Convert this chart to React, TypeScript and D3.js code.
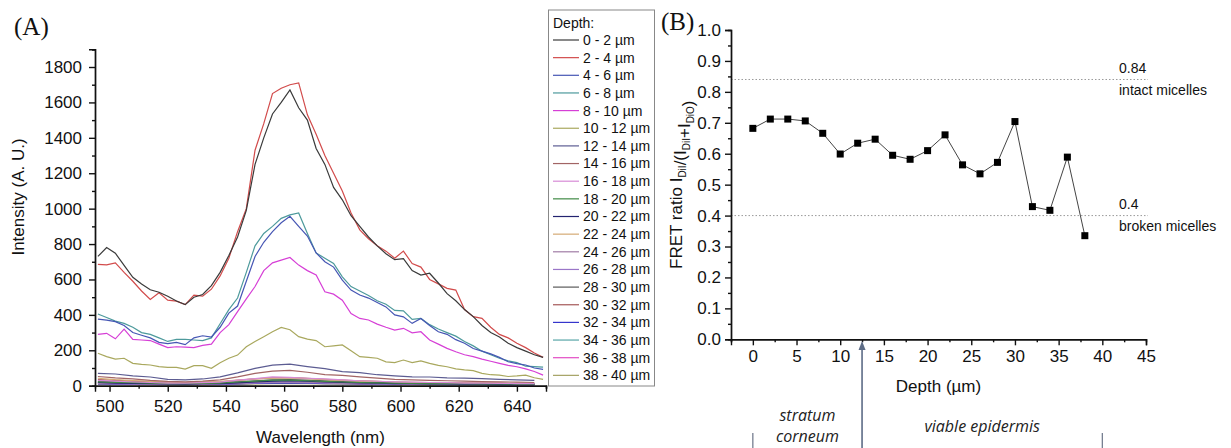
import { useEffect, useRef } from 'react'
import * as d3 from 'd3'

// Panel A: emission spectra at each depth
const wavelengths = [
  496, 499, 502, 505, 508, 511, 514, 517, 520, 523, 526, 529, 532, 535, 538, 541, 544, 547, 550, 553,
  556, 559, 562, 565, 568, 571, 574, 577, 580, 583, 586, 589, 592, 595, 598, 601, 604, 607, 610, 613,
  616, 619, 622, 625, 628, 631, 634, 637, 640, 643, 646, 649
]
const wavelengthsCoarse = [
  496, 502, 508, 514, 520, 526, 532, 538, 544, 550, 556, 562, 568, 574, 580, 586, 592, 598, 604, 610,
  616, 622, 628, 634, 640, 646
]

const spectrum0to2 = [
  730, 780, 748, 680, 612, 575, 542, 528, 505, 478, 458, 500, 515, 565, 640, 735, 840, 990, 1250, 1400,
  1535, 1600, 1670, 1570, 1500, 1340, 1250, 1120, 1050, 960, 900, 840, 790, 745, 712, 718, 650, 625, 635, 580,
  520, 480, 430, 390, 340, 300, 275, 240, 215, 195, 175, 160
]
const spectrum2to4 = [
  685, 682, 694, 640, 590, 535, 487, 525, 483, 478, 458, 512, 506, 545, 620, 720, 870, 1000, 1330, 1480,
  1650, 1680, 1700, 1710, 1530, 1420, 1300, 1200, 1100, 975, 880, 830, 790, 760, 720, 760, 690, 670, 600, 575,
  550, 540, 430, 390, 380, 330, 290, 270, 240, 215, 185, 160
]
const spectrum4to6 = [
  376, 370, 362, 340, 300, 285, 270, 245, 238, 245, 232, 270, 282, 275, 330, 410, 450, 590, 730, 810,
  870, 920, 957, 900, 845, 750, 700, 670, 596, 540, 512, 495, 470, 445, 400, 389, 352, 380, 340, 305,
  290, 260, 240, 210, 195, 180, 160, 135, 125, 117, 100, 92
]
const spectrum6to8 = [
  405, 385, 365, 352, 330, 300, 290, 270, 250, 262, 262, 258, 255, 270, 350, 430, 495, 640, 790, 860,
  900, 945, 965, 976, 860, 750, 720, 690, 615, 560, 535, 510, 480, 460, 425, 423, 375, 380, 345, 320,
  300, 280, 250, 225, 195, 175, 155, 140, 130, 110, 108, 105
]
const spectrum8to10 = [
  290, 296, 265, 320, 262, 258, 255, 235, 215, 220, 218, 215, 228, 235, 300, 345, 418, 490, 560, 650,
  694, 709, 724, 681, 650, 625, 530, 517, 483, 408, 380, 371, 348, 330, 314, 324, 299, 305, 258, 235,
  211, 192, 175, 164, 150, 138, 126, 115, 107, 95, 80, 60
]
const spectrum10to12 = [
  183, 164, 150, 155, 126, 120, 117, 108, 104, 103, 94, 113, 113, 98, 130, 155, 173, 220, 250, 277,
  305, 329, 316, 277, 263, 255, 220, 225, 230, 198, 164, 160, 155, 135, 130, 145, 130, 140, 126, 115,
  107, 95, 89, 85, 70, 62, 60, 52, 55, 60, 45, 36
]
const spectrum12to14 = [70, 66, 56, 49, 36, 33, 38, 50, 72, 98, 116, 122, 108, 96, 80, 74, 62, 56, 50, 49, 44, 43, 40, 36, 33, 30]
const spectrum14to16 = [52, 44, 39, 30, 24, 22, 26, 33, 50, 70, 82, 86, 76, 63, 58, 50, 43, 36, 33, 30, 28, 26, 23, 22, 20, 18]
const spectrum16to18 = [30, 26, 21, 18, 15, 14, 17, 20, 31, 40, 50, 47, 42, 38, 33, 28, 25, 22, 20, 18, 17, 15, 14, 13, 12, 12]
const spectrum18to20 = [22, 18, 17, 14, 12, 11, 13, 15, 21, 26, 31, 32, 28, 24, 21, 18, 16, 14, 13, 12, 12, 11, 10, 10, 9, 9]
const spectrum20to22 = [18, 15, 13, 12, 10, 9, 11, 12, 16, 22, 26, 28, 25, 21, 18, 16, 14, 12, 11, 10, 10, 9, 9, 8, 8, 8]
const spectrum22to24 = [42, 34, 29, 24, 20, 18, 21, 25, 32, 39, 42, 45, 40, 34, 30, 26, 23, 20, 18, 17, 16, 15, 14, 13, 12, 12]
const spectrum24to26 = [15, 13, 11, 10, 9, 8, 9, 11, 14, 18, 21, 22, 20, 17, 15, 13, 12, 11, 10, 9, 9, 8, 8, 7, 7, 7]
const spectrum26to28 = [12, 10, 9, 8, 7, 7, 8, 9, 12, 15, 18, 19, 17, 14, 12, 11, 10, 9, 8, 8, 7, 7, 6, 6, 6, 6]
const spectrum28to30 = [25, 22, 19, 16, 14, 13, 14, 17, 22, 28, 33, 35, 31, 27, 23, 20, 18, 16, 15, 14, 13, 12, 11, 10, 10, 9]
const spectrum30to32 = [35, 30, 26, 22, 19, 17, 19, 22, 30, 38, 44, 46, 42, 36, 31, 27, 24, 21, 19, 18, 17, 16, 15, 14, 13, 12]
const spectrum32to34 = [10, 9, 8, 7, 6, 6, 7, 8, 10, 13, 15, 16, 14, 12, 11, 10, 9, 8, 7, 7, 6, 6, 6, 5, 5, 5]
const spectrum34to36 = [20, 17, 15, 13, 11, 10, 11, 13, 17, 22, 26, 27, 24, 21, 18, 16, 14, 13, 12, 11, 10, 10, 9, 8, 8, 8]
const spectrum36to38 = [14, 12, 11, 10, 9, 8, 9, 10, 13, 17, 20, 21, 19, 16, 14, 12, 11, 10, 9, 9, 8, 8, 7, 7, 6, 6]
const spectrum38to40 = [8, 7, 6, 6, 5, 5, 5, 6, 8, 10, 12, 13, 11, 10, 9, 8, 7, 6, 6, 5, 5, 5, 5, 4, 4, 4]

const depthLabels = [
  '0 - 2 µm', '2 - 4 µm', '4 - 6 µm', '6 - 8 µm', '8 - 10 µm', '10 - 12 µm', '12 - 14 µm', '14 - 16 µm',
  '16 - 18 µm', '18 - 20 µm', '20 - 22 µm', '22 - 24 µm', '24 - 26 µm', '26 - 28 µm', '28 - 30 µm',
  '30 - 32 µm', '32 - 34 µm', '34 - 36 µm', '36 - 38 µm', '38 - 40 µm'
]
const depthColors = [
  '#3a3a3a', '#d24b4b', '#4656b4', '#4d9a9c', '#d63fd6', '#a9a85e', '#5c5c92', '#a26464', '#d78bd6', '#3f8a45',
  '#232370', '#d4aa74', '#a07ca6', '#9a76c8', '#5a5a5a', '#a45858', '#3535cc', '#58a6a8', '#e24cc4', '#a4a262'
]

// Panel B: FRET ratio vs depth
const depths = [0, 2, 4, 6, 8, 10, 12, 14, 16, 18, 20, 22, 24, 26, 28, 30, 32, 34, 36, 38]
const fretRatio = [
  0.682, 0.712, 0.712, 0.706, 0.666, 0.599, 0.634, 0.647, 0.595, 0.582,
  0.610, 0.661, 0.564, 0.535, 0.572, 0.704, 0.429, 0.417, 0.589, 0.335
]
const referenceLevels = [0.84, 0.4]
const referenceNames = ['intact micelles', 'broken micelles']

const FONT = '"Liberation Sans", Arial, sans-serif'

const App = () => {
  const svgRef = useRef<SVGSVGElement>(null)

  useEffect(() => {
    if (!svgRef.current) return
    const svg = d3.select(svgRef.current)
    svg.selectAll('*').remove()

    const styleAxis = (g: any, size: number) => {
      g.attr('font-family', FONT).attr('font-size', size)
      g.select('.domain').attr('stroke', '#111').attr('stroke-width', 1.4)
      g.selectAll('.tick line').attr('stroke', '#111').attr('stroke-width', 1.4)
      g.selectAll('.tick text').attr('fill', '#111')
    }

    // ---------- Panel A ----------
    const xA = d3.scaleLinear().domain([495, 650]).range([95, 546])
    const yA = d3.scaleLinear().domain([0, 1900]).range([385.7, 49.3])

    const seriesA = [
      spectrum0to2, spectrum2to4, spectrum4to6, spectrum6to8, spectrum8to10, spectrum10to12
    ].map(v => v.map((y, i) => [wavelengths[i], y]))
    const seriesCoarse = [
      spectrum12to14, spectrum14to16, spectrum16to18, spectrum18to20, spectrum20to22, spectrum22to24,
      spectrum24to26, spectrum26to28, spectrum28to30, spectrum30to32, spectrum32to34, spectrum34to36,
      spectrum36to38, spectrum38to40
    ].map(v => v.map((y, i) => [wavelengthsCoarse[i], y]))
    const allSeries = [...seriesA, ...seriesCoarse]

    const lineA = d3.line<number[]>().x(d => xA(d[0])).y(d => yA(d[1]))
    const gA = svg.append('g')
    for (let i = allSeries.length - 1; i >= 0; i--) {
      gA.append('path')
        .datum(allSeries[i])
        .attr('fill', 'none')
        .attr('stroke', depthColors[i])
        .attr('stroke-width', 1.2)
        .attr('d', lineA)
    }

    const axA = svg.append('g').attr('transform', 'translate(0,385.7)')
      .call(d3.axisBottom(xA).tickValues(d3.range(510, 651, 20)).tickSize(3).tickFormat(() => ''))
    styleAxis(axA, 17)
    const axA2 = svg.append('g').attr('transform', 'translate(0,385.7)')
      .call(d3.axisBottom(xA).tickValues(d3.range(500, 641, 20)).tickSize(6).tickPadding(8).tickFormat(d3.format('d')))
    styleAxis(axA2, 17)

    const ayA = svg.append('g').attr('transform', 'translate(95,0)')
      .call(d3.axisLeft(yA).tickValues(d3.range(100, 1901, 200)).tickSize(3).tickFormat(() => ''))
    styleAxis(ayA, 17)
    const ayA2 = svg.append('g').attr('transform', 'translate(95,0)')
      .call(d3.axisLeft(yA).tickValues(d3.range(0, 1801, 200)).tickSize(6).tickPadding(7).tickFormat(d3.format('d')))
    styleAxis(ayA2, 17)

    svg.append('text').attr('x', 320.5).attr('y', 443)
      .attr('text-anchor', 'middle').attr('font-family', FONT).attr('font-size', 17).attr('fill', '#111')
      .text('Wavelength (nm)')
    svg.append('text').attr('transform', 'translate(18,197) rotate(-90)').attr('dy', '0.35em')
      .attr('text-anchor', 'middle').attr('font-family', FONT).attr('font-size', 17).attr('fill', '#111')
      .text('Intensity (A. U.)')
    svg.append('text').attr('x', 14).attr('y', 35)
      .attr('font-family', '"Liberation Serif", "Times New Roman", serif').attr('font-size', 25).attr('fill', '#111')
      .text('(A)')

    // Legend
    const leg = svg.append('g').attr('font-family', FONT).attr('font-size', 14).attr('fill', '#111')
    leg.append('rect').attr('x', 548.5).attr('y', 10).attr('width', 106).attr('height', 376)
      .attr('fill', '#fff').attr('stroke', '#888').attr('stroke-width', 1)
    leg.append('text').attr('x', 553).attr('y', 22.7).attr('dy', '0.35em').text('Depth:')
    depthLabels.forEach((label, i) => {
      const y = 40 + i * 17.65
      leg.append('line').attr('x1', 553).attr('x2', 579).attr('y1', y).attr('y2', y)
        .attr('stroke', depthColors[i]).attr('stroke-width', 1.2)
      leg.append('text').attr('x', 583).attr('y', y).attr('dy', '0.35em').text(label)
    })

    // ---------- Panel B ----------
    const xB = d3.scaleLinear().domain([-2.5, 45]).range([731, 1146])
    const yB = d3.scaleLinear().domain([0, 1]).range([339.3, 30])

    referenceLevels.forEach((level, i) => {
      svg.append('line').attr('x1', xB(-2.5)).attr('x2', 1148).attr('y1', yB(level)).attr('y2', yB(level))
        .attr('stroke', '#9a9a9a').attr('stroke-width', 1).attr('stroke-dasharray', '1.5,2')
      svg.append('text').attr('x', 1119).attr('y', yB(level) - 11.5).attr('dy', '0.35em')
        .attr('font-family', FONT).attr('font-size', 14).attr('fill', '#111').text(String(level))
      svg.append('text').attr('x', 1119).attr('y', yB(level) + 10.5).attr('dy', '0.35em')
        .attr('font-family', FONT).attr('font-size', 14).attr('fill', '#111').text(referenceNames[i])
    })

    const pointsB = depths.map((d, i) => [d, fretRatio[i]])
    svg.append('path').datum(pointsB)
      .attr('fill', 'none').attr('stroke', '#444').attr('stroke-width', 1)
      .attr('d', d3.line<number[]>().x(d => xB(d[0])).y(d => yB(d[1])))
    svg.append('g').selectAll('rect').data(pointsB).enter().append('rect')
      .attr('x', d => xB(d[0]) - 3.5).attr('y', d => yB(d[1]) - 3.5)
      .attr('width', 7).attr('height', 7).attr('fill', '#000')

    const axB = svg.append('g').attr('transform', 'translate(0,339.3)')
      .call(d3.axisBottom(xB).tickValues(d3.range(-2.5, 45, 5)).tickSize(3).tickFormat(() => ''))
    styleAxis(axB, 17)
    const axB2 = svg.append('g').attr('transform', 'translate(0,339.3)')
      .call(d3.axisBottom(xB).tickValues(d3.range(0, 46, 5)).tickSize(6).tickPadding(5).tickFormat(d3.format('d')))
    styleAxis(axB2, 17)
    const ayB = svg.append('g').attr('transform', 'translate(731,0)')
      .call(d3.axisLeft(yB).tickValues(d3.range(0.05, 1, 0.1)).tickSize(3).tickFormat(() => ''))
    styleAxis(ayB, 17)
    const ayB2 = svg.append('g').attr('transform', 'translate(731,0)')
      .call(d3.axisLeft(yB).tickValues(d3.range(0, 11).map(v => v / 10)).tickSize(6).tickPadding(4).tickFormat(d3.format('.1f')))
    styleAxis(ayB2, 17)

    svg.append('text').attr('x', 938.5).attr('y', 385.7).attr('dy', '0.35em')
      .attr('text-anchor', 'middle').attr('font-family', FONT).attr('font-size', 17).attr('fill', '#111')
      .text('Depth (µm)')

    const yTitle = svg.append('text').attr('transform', 'translate(682,184.7) rotate(-90)').attr('dy', '0.35em')
      .attr('text-anchor', 'middle').attr('font-family', FONT).attr('font-size', 17).attr('fill', '#111')
    const parts: [string, boolean][] = [
      ['FRET ratio I', false], ['DiI', true], ['/(I', false], ['DiI', true], ['+I', false], ['DiO', true], [')', false]
    ]
    parts.forEach(([t, sub]) => {
      yTitle.append('tspan').attr('font-size', sub ? 10 : 17).attr('dy', sub ? 4 : 0)
        .text(t)
      if (sub) yTitle.append('tspan').attr('dy', -4).text('')
    })

    svg.append('text').attr('x', 661).attr('y', 30)
      .attr('font-family', '"Liberation Serif", "Times New Roman", serif').attr('font-size', 25).attr('fill', '#111')
      .text('(B)')

    // Skin layer annotations
    const arrowX = xB(12.5)
    svg.append('line').attr('x1', arrowX).attr('x2', arrowX).attr('y1', 448).attr('y2', 348)
      .attr('stroke', '#5d6c86').attr('stroke-width', 1.6)
    svg.append('path')
      .attr('d', `M${arrowX},${341} L${arrowX - 3.5},${350} L${arrowX + 3.5},${350} Z`)
      .attr('fill', '#5d6c86')
    ;[0, 40].forEach(d => {
      svg.append('line').attr('x1', xB(d)).attr('x2', xB(d)).attr('y1', 433).attr('y2', 448)
        .attr('stroke', '#6b7488').attr('stroke-width', 1.2)
    })
    const annot = svg.append('g').attr('font-family', '"Open Sans", sans-serif').attr('font-style', 'italic')
      .attr('font-size', 16).attr('fill', '#222').attr('text-anchor', 'middle')
    annot.append('text').attr('x', xB(6.25)).attr('y', 415).attr('dy', '0.35em').text('stratum')
    annot.append('text').attr('x', xB(6.25)).attr('y', 436.7).attr('dy', '0.35em').text('corneum')
    annot.append('text').attr('x', xB(26.25)).attr('y', 426.7).attr('dy', '0.35em').text('viable epidermis')
  }, [])

  return (
    <svg ref={svgRef} width={1231} height={448}
      style={{ position: 'absolute', left: 0, top: 0, background: '#fff' }} />
  )
}

export default App
